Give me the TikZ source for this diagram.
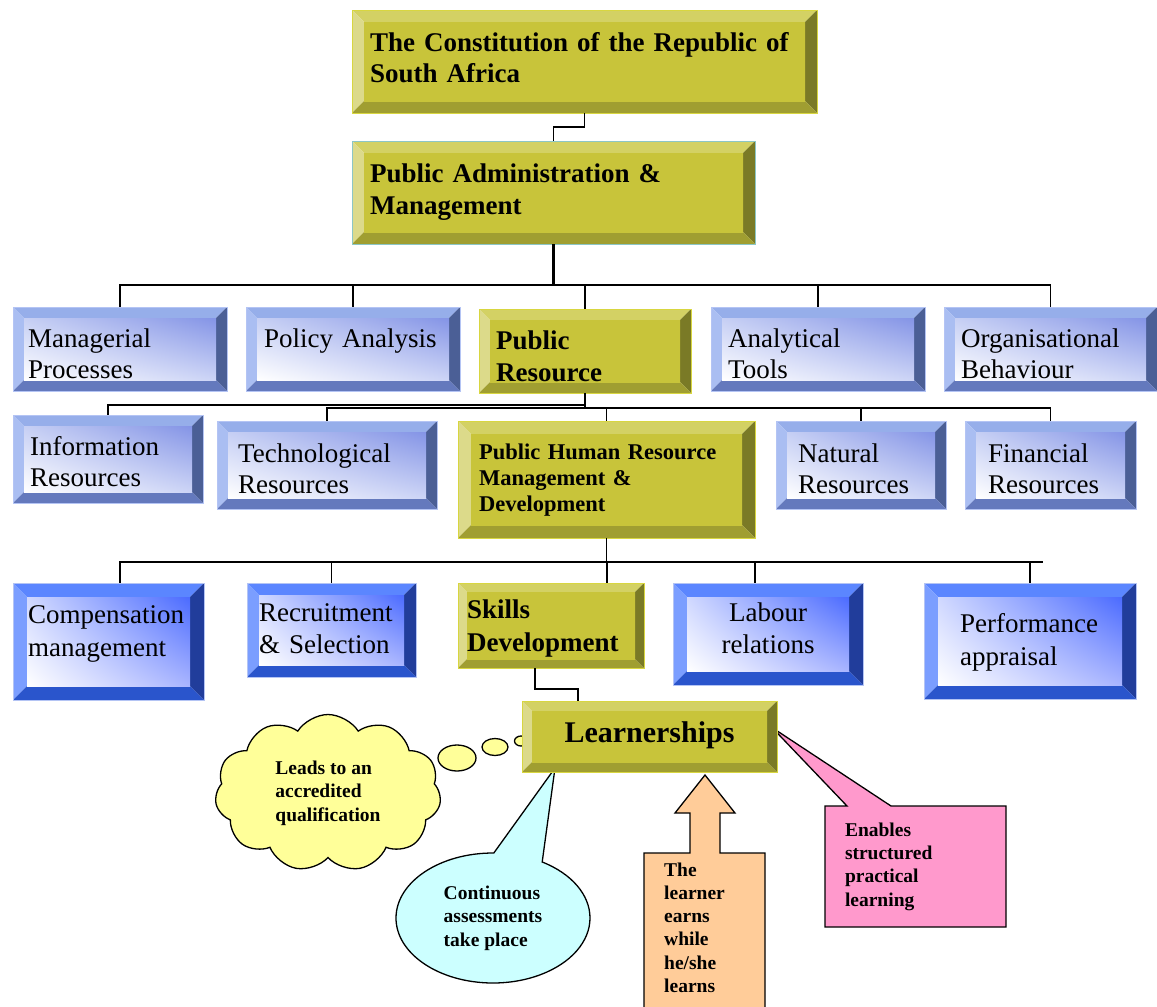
\documentclass[tikz,border=0pt]{standalone}
\usepackage{fontspec}
\setmainfont{Liberation Serif}
\usetikzlibrary{shapes.symbols,shapes.geometric,shapes.callouts,shadings}

% box colours
\definecolor{olvFace}{HTML}{C8C43A}
\definecolor{olvTop}{HTML}{D3D164}
\definecolor{olvLeft}{HTML}{DCDA8A}
\definecolor{olvRight}{HTML}{7A7A26}
\definecolor{olvBot}{HTML}{A09E31}
\definecolor{olvEdge}{HTML}{D8D640}
\definecolor{bluTop}{HTML}{96AEEA}
\definecolor{bluLeft}{HTML}{AABEF2}
\definecolor{bluRight}{HTML}{4B5F96}
\definecolor{bluBot}{HTML}{6479BD}
\definecolor{bluUL}{HTML}{C6CFF4}
\definecolor{bluUR}{HTML}{8494E6}
\definecolor{bluLR}{HTML}{CCD4F6}
\definecolor{bluEdge}{HTML}{B4C4F4}
\definecolor{dpTop}{HTML}{5B86FF}
\definecolor{dpLeft}{HTML}{7B9EFF}
\definecolor{dpRight}{HTML}{213D9B}
\definecolor{dpBot}{HTML}{2A55CC}
\definecolor{dpUL}{HTML}{D0D8FF}
\definecolor{dpUR}{HTML}{4B6BFF}
\definecolor{dpLR}{HTML}{A8B4FF}
\definecolor{cloudFill}{HTML}{FFFF99}
\definecolor{cyanFill}{HTML}{CCFFFF}
\definecolor{peachFill}{HTML}{FFCC99}
\definecolor{pinkFill}{HTML}{FF99CC}

\pgfdeclarelayer{back}
\pgfsetlayers{back,main}

% bevelled frame: top, left, right, bottom, then face corners ul, ur, ll, lr
\def\bevw{12pt}
\newcommand\drawbevel[8]{%
  \coordinate (bnw) at (path picture bounding box.north west);
  \coordinate (bne) at (path picture bounding box.north east);
  \coordinate (bsw) at (path picture bounding box.south west);
  \coordinate (bse) at (path picture bounding box.south east);
  \coordinate (inw) at ([xshift=\bevw,yshift=-\bevw]bnw);
  \coordinate (ine) at ([xshift=-\bevw,yshift=-\bevw]bne);
  \coordinate (isw) at ([xshift=\bevw,yshift=\bevw]bsw);
  \coordinate (ise) at ([xshift=-\bevw,yshift=\bevw]bse);
  \fill[#1] (bnw) -- (bne) -- (ine) -- (inw) -- cycle;
  \fill[#2] (bnw) -- (inw) -- (isw) -- (bsw) -- cycle;
  \fill[#3] (bne) -- (bse) -- (ise) -- (ine) -- cycle;
  \fill[#4] (bsw) -- (isw) -- (ise) -- (bse) -- cycle;
  \shade[upper left=#5, upper right=#6, lower left=#7, lower right=#8] (inw) rectangle (ise);
}
\tikzset{bevel width/.code={\def\bevw{#1}}}

\begin{document}
\begin{tikzpicture}[x=1pt,y=-1pt]
  \tikzstyle{olivebox} = [rectangle, anchor=north west, inner sep=0pt, outer sep=0pt,
    draw=olvEdge, line width=0.8pt,
    path picture={\drawbevel{olvTop}{olvLeft}{olvRight}{olvBot}{olvFace}{olvFace}{olvFace}{olvFace}}]
  \tikzstyle{bluebox} = [rectangle, anchor=north west, inner sep=0pt, outer sep=0pt,
    draw=bluEdge, line width=0.8pt, bevel width=11pt,
    path picture={\drawbevel{bluTop}{bluLeft}{bluRight}{bluBot}{bluUL}{bluUR}{white}{bluLR}}]
  \tikzstyle{deepbox} = [rectangle, anchor=north west, inner sep=0pt, outer sep=0pt,
    draw=bluEdge, line width=0.8pt, bevel width=14pt,
    path picture={\drawbevel{dpTop}{dpLeft}{dpRight}{dpBot}{dpUL}{dpUR}{white}{dpLR}}]
  \tikzstyle{plain} = [anchor=base west, inner sep=0pt, text width=470pt, align=left,
    font=\fontsize{27}{31}\selectfont]
  \tikzstyle{heavy} = [plain, font=\bfseries\fontsize{27}{31}\selectfont]
  \tikzstyle{note} = [inner sep=0pt, align=left, font=\bfseries\fontsize{19.5}{23.3}\selectfont]
  \tikzstyle{bubble} = [ellipse, draw=black, line width=1.3pt, fill=cloudFill, inner sep=0pt]
  \tikzstyle{link} = [draw=black, line width=1.5pt]
  \tikzstyle{trunk} = [link, line width=2.6pt]

  \useasboundingbox (0,0) rectangle (1157,1007);
  \begin{pgfonlayer}{back}
    \fill[white] (0,0) rectangle (1157,1007);
  \end{pgfonlayer}

  % top of the tree
  \node[olivebox, minimum width=465pt, minimum height=103pt] (const) at (352,10) {};
  \node[heavy] (constT) at ([xshift=18pt,yshift=-41pt]const.north west)
    {The Constitution of the Republic of\\South Africa};
  \node[olivebox, minimum width=403pt, minimum height=103pt, draw=teal!45] (pam) at (352,141) {};
  \node[heavy, font=\bfseries\fontsize{27}{32}\selectfont] (pamT) at ([xshift=18pt,yshift=-41pt]pam.north west)
    {Public Administration \&\\Management};
  \draw[link] (const.south) -- ++(0,14) -| (pam.north);

  % second row
  \node[bluebox, minimum width=214pt, minimum height=84pt] (manproc) at (13,307) {};
  \node[bluebox, minimum width=214pt, minimum height=84pt] (policy) at (246,307) {};
  \node[olivebox, minimum width=212pt, minimum height=84pt, bevel width=11pt] (pubres) at (479,309) {};
  \node[bluebox, minimum width=214pt, minimum height=84pt] (analyt) at (711,307) {};
  \node[bluebox, minimum width=213pt, minimum height=84pt] (orgbeh) at (944,307) {};
  \node[plain] (manprocT) at ([xshift=15pt,yshift=-40pt]manproc.north west) {Managerial\\Processes};
  \node[plain] (policyT) at ([xshift=18pt,yshift=-40pt]policy.north west) {Policy Analysis};
  \node[heavy, font=\bfseries\fontsize{27}{32}\selectfont] (pubresT) at ([xshift=17pt,yshift=-40pt]pubres.north west) {Public\\Resource};
  \node[plain] (analytT) at ([xshift=17pt,yshift=-40pt]analyt.north west) {Analytical\\Tools};
  \node[plain] (orgbehT) at ([xshift=17pt,yshift=-40pt]orgbeh.north west) {Organisational\\Behaviour};

  \draw[trunk] (pam.south) -- ++(0,41) coordinate (j1);
  \foreach \n in {manproc,policy,pubres,analyt,orgbeh}
    \draw[link] (j1) -| (\n.north);

  % third row
  \node[bluebox, minimum width=190pt, minimum height=88pt] (info) at (13,415) {};
  \node[bluebox, minimum width=220pt, minimum height=88pt] (tech) at (217,421) {};
  \node[olivebox, minimum width=297pt, minimum height=117pt, bevel width=13pt] (phrmd) at (458,421) {};
  \node[bluebox, minimum width=170pt, minimum height=88pt] (natural) at (776,421) {};
  \node[bluebox, minimum width=171pt, minimum height=88pt] (financial) at (965,421) {};
  \node[plain] (infoT) at ([xshift=17pt,yshift=-40pt]info.north west) {Information\\Resources};
  \node[plain] (techT) at ([xshift=21pt,yshift=-41pt]tech.north west) {Technological\\Resources};
  \node[heavy, font=\bfseries\fontsize{22.5}{26}\selectfont] (phrmdT) at ([xshift=21pt,yshift=-38pt]phrmd.north west)
    {Public Human Resource\\Management \&\\Development};
  \node[plain] (naturalT) at ([xshift=22pt,yshift=-41pt]natural.north west) {Natural\\Resources};
  \node[plain] (financialT) at ([xshift=23pt,yshift=-41pt]financial.north west) {Financial\\Resources};

  \draw[link] (pubres.south) -- ++(0,12) coordinate (j2) -- ++(0,3) coordinate (j2b);
  \draw[link] (j2) -| (info.north);
  \foreach \n in {tech,phrmd,natural,financial}
    \draw[link] (j2b) -| (\n.north);

  % fourth row
  \node[deepbox, minimum width=191pt, minimum height=117pt] (comp) at (13,583) {};
  \node[deepbox, minimum width=169pt, minimum height=94pt, bevel width=12pt] (recruit) at (247,583) {};
  \node[olivebox, minimum width=186pt, minimum height=85pt, bevel width=9pt] (skills) at (458,583) {};
  \node[deepbox, minimum width=190pt, minimum height=102pt] (labour) at (673,583) {};
  \node[deepbox, minimum width=212pt, minimum height=116pt] (perf) at (924,583) {};
  \node[plain, font=\fontsize{27}{33}\selectfont] (compT) at ([xshift=15pt,yshift=-40pt]comp.north west) {Compensation\\management};
  \node[plain, font=\fontsize{27}{32}\selectfont] (recruitT) at ([xshift=12pt,yshift=-38pt]recruit.north west) {Recruitment\\\& Selection};
  \node[heavy, font=\bfseries\fontsize{27}{33}\selectfont] (skillsT) at ([xshift=9pt,yshift=-35pt]skills.north west) {Skills\\Development};
  \node[plain, anchor=base, text width=170pt, align=center, font=\fontsize{27}{32}\selectfont] (labourT)
    at ([yshift=-38pt]labour.north) {Labour\\relations};
  \node[plain, font=\fontsize{27}{33}\selectfont] (perfT) at ([xshift=36pt,yshift=-49pt]perf.north west) {Performance\\appraisal};

  \draw[link] (phrmd.south) -- ++(0,24) coordinate (j3) -- ++(436,0);
  \draw[link] (j3) -| ([xshift=11.5pt]comp.north);
  \draw[link] (j3) -| (recruit.north);
  \draw[link] (j3) -| ([xshift=56pt]skills.north);
  \draw[link] (j3) -| ([xshift=-13pt]labour.north);
  \draw[link] (j3) -| (perf.north);

  % learnerships and what it brings
  \node[olivebox, minimum width=255pt, minimum height=71pt, bevel width=10pt] (learn) at (522,701) {};
  \node[heavy, anchor=base, text width=250pt, align=center, font=\bfseries\fontsize{30}{34}\selectfont]
    (learnT) at ([yshift=-41pt]learn.north) {Learnerships};
  \draw[link] ([xshift=-16pt]skills.south) -- ++(0,21) -| ([xshift=-71.5pt]learn.north);

  % the callouts sit behind the box so their pointers tuck under it
  \begin{pgfonlayer}{back}
  \node[cloud, draw=black, line width=1.3pt, fill=cloudFill, note,
    cloud puffs=11, cloud puff arc=115, cloud ignores aspect,
    minimum width=226pt, minimum height=157pt] (qualif) at (328,793)
    {Leads to an\\accredited\\qualification};
  \node[bubble, minimum width=38pt, minimum height=26pt] (b1) at (457,758) {};
  \node[bubble, minimum width=26pt, minimum height=17pt] (b2) at (495,747) {};
  \node[bubble, minimum width=13pt, minimum height=10pt] (b3) at (521,741) {};

  \node[ellipse callout, draw=black, line width=1.3pt, fill=cyanFill, note,
    minimum width=194pt, minimum height=130pt, callout pointer arc=30,
    callout absolute pointer={([xshift=33pt,yshift=4pt]learn.south west)}] (assess) at (493,918)
    {Continuous\\assessments\\take place};

  \filldraw[draw=black, line width=1.3pt, fill=peachFill]
    (644,1015) -- (644,853) -- (690,853) -- (690,813) -- (675,813) -- (705,775)
    -- (735,813) -- (720,813) -- (720,853) -- (765,853) -- (765,1015);
  \node[note, anchor=base west, text width=90pt] (earnT) at (664,876)
    {The\\learner\\earns\\while\\he/she\\learns};

  \node[rectangle callout, draw=black, line width=1.3pt, fill=pinkFill, note,
    text width=141pt, inner xsep=20pt, minimum height=121pt, callout pointer width=44pt,
    callout absolute pointer={([xshift=-5pt,yshift=9pt]learn.east)}] (enable) at (915.5,866.5)
    {Enables\\structured\\practical\\learning};
  \end{pgfonlayer}
\end{tikzpicture}
\end{document}
